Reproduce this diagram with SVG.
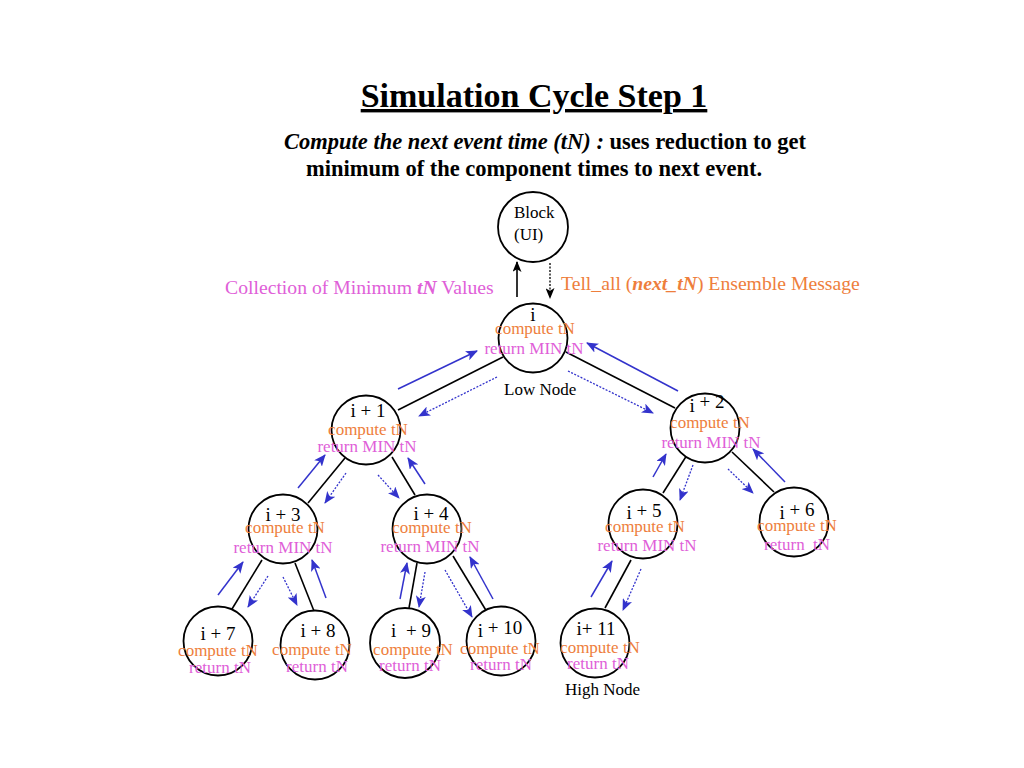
<svg xmlns="http://www.w3.org/2000/svg" width="1024" height="768" viewBox="0 0 1024 768">
<defs>
<style>
text{font-family:"Liberation Serif","Times New Roman",serif;}
.title{font-size:34px;font-weight:bold;text-anchor:middle;text-decoration:underline;}
.sub{font-size:22.5px;font-weight:bold;}
.bi{font-style:italic;}
.node{fill:#fff;stroke:#000;stroke-width:1.8;}
.lbl{font-size:19px;fill:#000;text-anchor:middle;}
.cmp{font-size:17px;fill:#EE7E3C;text-anchor:middle;}
.ret{font-size:17px;fill:#E060D8;text-anchor:middle;}
.blk{font-size:17px;fill:#000;}
.mag{font-size:19.7px;fill:#E060D8;}
.org{font-size:19.7px;fill:#EE7E3C;}
.edge{stroke:#000;stroke-width:1.6;fill:none;}
.up{stroke:#3333CC;stroke-width:1.5;fill:none;marker-end:url(#ab);}
.dn{stroke:#3333CC;stroke-width:1.3;stroke-dasharray:2,1.5;fill:none;marker-end:url(#ab);}
</style>
<marker id="ab" viewBox="0 0 12 10" refX="11" refY="5" markerWidth="12" markerHeight="10" markerUnits="userSpaceOnUse" orient="auto">
<path d="M0,0 L12,5 L0,10 L3,5 z" fill="#3333CC"/>
</marker>
<marker id="ak" viewBox="0 0 12 10" refX="11" refY="5" markerWidth="11" markerHeight="9" markerUnits="userSpaceOnUse" orient="auto">
<path d="M0,0 L12,5 L0,10 L3,5 z" fill="#000"/>
</marker>
</defs>
<rect width="1024" height="768" fill="#fff"/>

<g id="title">
<text class="title" x="534" y="107">Simulation Cycle Step 1</text>
<text class="sub" x="284" y="149"><tspan class="bi">Compute the next event time (tN) :</tspan> uses reduction to get</text>
<text class="sub" x="306" y="176">minimum of the component times to next event.</text>
</g>

<g id="labels">
<text class="mag" x="225" y="294">Collection of Minimum <tspan font-weight="bold" font-style="italic">tN</tspan> Values</text>
<text class="org" x="561" y="290">Tell_all (<tspan font-weight="bold" font-style="italic">next_tN</tspan>) Ensemble Message</text>
<text class="blk" x="504" y="395">Low Node</text>
<text class="blk" x="565" y="695">High Node</text>
</g>

<g id="connectors">
<line x1="517" y1="297" x2="517" y2="262" stroke="#000" stroke-width="1.6" marker-end="url(#ak)"/>
<line x1="550" y1="263" x2="550" y2="298" stroke="#000" stroke-width="1.3" stroke-dasharray="2,1.5" marker-end="url(#ak)"/>
<line class="edge" x1="503" y1="357" x2="398" y2="410"/>
<line class="up" x1="398" y1="389" x2="477" y2="351"/>
<line class="dn" x1="497" y1="377" x2="419" y2="416"/>
<line class="edge" x1="566" y1="352" x2="675" y2="408"/>
<line class="up" x1="678" y1="391" x2="587" y2="343"/>
<line class="dn" x1="568" y1="371" x2="653" y2="413"/>
<line class="edge" x1="345" y1="458" x2="308" y2="503"/>
<line class="up" x1="298" y1="488" x2="325" y2="455"/>
<line class="dn" x1="346" y1="473" x2="325" y2="503"/>
<line class="edge" x1="392" y1="457" x2="415" y2="495"/>
<line class="up" x1="425" y1="484" x2="408" y2="458"/>
<line class="dn" x1="378" y1="475" x2="399" y2="498"/>
<line class="edge" x1="687" y1="455" x2="663" y2="493"/>
<line class="up" x1="653" y1="477" x2="666" y2="454"/>
<line class="dn" x1="693" y1="465" x2="680" y2="500"/>
<line class="edge" x1="732" y1="452" x2="774" y2="492"/>
<line class="up" x1="785" y1="482" x2="753" y2="449"/>
<line class="dn" x1="728" y1="469" x2="753" y2="493"/>
<line class="edge" x1="262" y1="560" x2="232" y2="609"/>
<line class="up" x1="218" y1="595" x2="243" y2="562"/>
<line class="dn" x1="268" y1="576" x2="248" y2="607"/>
<line class="edge" x1="295" y1="563" x2="314" y2="611"/>
<line class="up" x1="326" y1="598" x2="312" y2="560"/>
<line class="dn" x1="283" y1="577" x2="297" y2="605"/>
<line class="edge" x1="417" y1="563" x2="409" y2="608"/>
<line class="up" x1="400" y1="599" x2="407" y2="563"/>
<line class="dn" x1="425" y1="572" x2="419" y2="607"/>
<line class="edge" x1="453" y1="556" x2="487" y2="612"/>
<line class="up" x1="493" y1="599" x2="470" y2="557"/>
<line class="dn" x1="445" y1="570" x2="472" y2="617"/>
<line class="edge" x1="631" y1="560" x2="605" y2="608"/>
<line class="up" x1="591" y1="597" x2="612" y2="561"/>
<line class="dn" x1="641" y1="569" x2="623" y2="610"/>
</g>

<g id="n-block">
<circle class="node" cx="533" cy="227" r="35"/>
<text class="blk" x="514" y="218" font-size="16.5">Block</text>
<text class="blk" x="514" y="240" font-size="16.5">(UI)</text>
</g>
<g id="n-i">
<circle class="node" cx="533" cy="338" r="34.5"/>
<text class="lbl" x="533" y="321">i</text>
<text class="cmp" x="535" y="334">compute tN</text>
<text class="ret" x="534" y="354">return MIN tN</text>
</g>
<g id="n-i1">
<circle class="node" cx="366" cy="430" r="34.5"/>
<text class="lbl" x="368" y="417">i + 1</text>
<text class="cmp" x="368" y="435">compute tN</text>
<text class="ret" x="367" y="452">return MIN tN</text>
</g>
<g id="n-i2">
<circle class="node" cx="705" cy="428" r="34.5"/>
<text class="lbl" x="707" y="412">i <tspan dy="-4">+ 2</tspan></text>
<text class="cmp" x="710" y="428">compute tN</text>
<text class="ret" x="711" y="448">return MIN tN</text>
</g>
<g id="n-i3">
<circle class="node" cx="283" cy="529" r="34.5"/>
<text class="lbl" x="283" y="521">i + 3</text>
<text class="cmp" x="285" y="533">compute tN</text>
<text class="ret" x="283" y="553">return MIN tN</text>
</g>
<g id="n-i4">
<circle class="node" cx="427" cy="529" r="34.5"/>
<text class="lbl" x="431" y="520">i + 4</text>
<text class="cmp" x="432" y="533">compute tN</text>
<text class="ret" x="430" y="552">return MIN tN</text>
</g>
<g id="n-i5">
<circle class="node" cx="643" cy="524" r="34.5"/>
<text class="lbl" x="644" y="519">i <tspan dy="-2">+ 5</tspan></text>
<text class="cmp" x="645" y="532">compute tN</text>
<text class="ret" x="647" y="551">return MIN tN</text>
</g>
<g id="n-i6">
<circle class="node" cx="794" cy="522" r="34.5"/>
<text class="lbl" x="797" y="519">i <tspan dy="-3">+ 6</tspan></text>
<text class="cmp" x="797" y="531">compute tN</text>
<text class="ret" x="797" y="550">return <tspan dx="4">tN</tspan></text>
</g>
<g id="n-i7">
<circle class="node" cx="218" cy="641" r="34.5"/>
<text class="lbl" x="218" y="640">i + 7</text>
<text class="cmp" x="218" y="656">compute tN</text>
<text class="ret" x="220" y="673">return tN</text>
</g>
<g id="n-i8">
<circle class="node" cx="315" cy="645" r="34.5"/>
<text class="lbl" x="318" y="637">i + 8</text>
<text class="cmp" x="312" y="655">compute tN</text>
<text class="ret" x="317" y="672">return tN</text>
</g>
<g id="n-i9">
<circle class="node" cx="405" cy="643" r="35"/>
<text class="lbl" x="411" y="637">i <tspan dx="5">+ 9</tspan></text>
<text class="cmp" x="413" y="655">compute tN</text>
<text class="ret" x="410" y="671">return tN</text>
</g>
<g id="n-i10">
<circle class="node" cx="501" cy="641" r="34.5"/>
<text class="lbl" x="500" y="637">i <tspan dy="-3">+ 10</tspan></text>
<text class="cmp" x="500" y="654">compute tN</text>
<text class="ret" x="501" y="670">return tN</text>
</g>
<g id="n-i11">
<circle class="node" cx="595" cy="643" r="34.5"/>
<text class="lbl" x="596" y="635">i+ 11</text>
<text class="cmp" x="600" y="653">compute tN</text>
<text class="ret" x="598" y="669">return tN</text>
</g>
</svg>
